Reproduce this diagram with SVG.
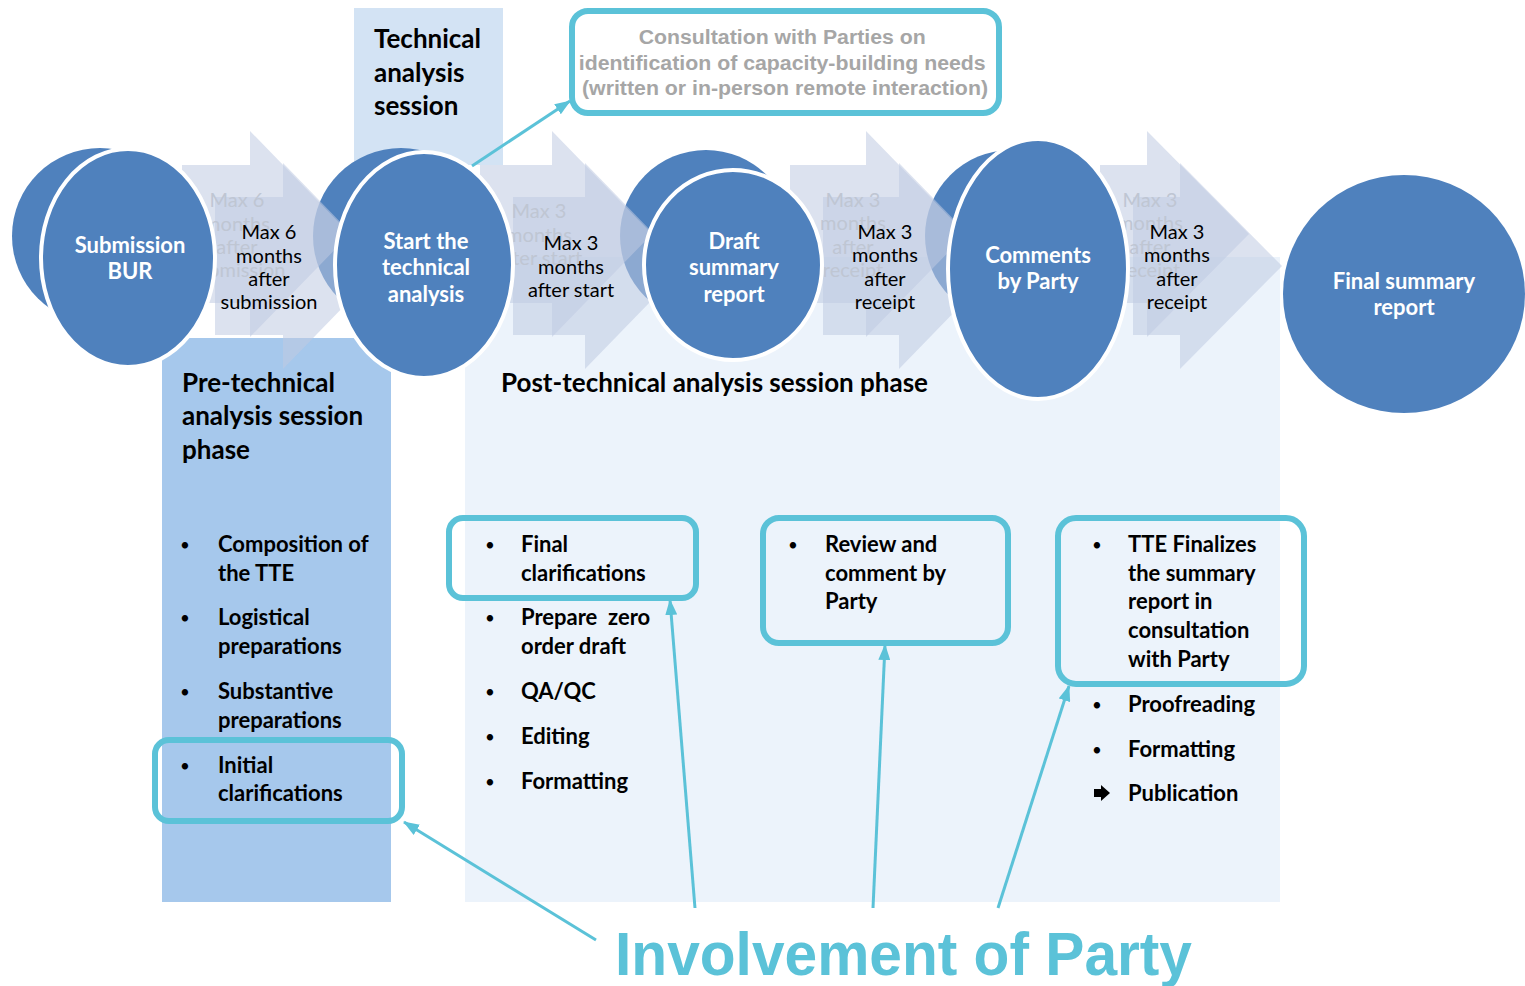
<svg xmlns="http://www.w3.org/2000/svg" width="1525" height="986" viewBox="0 0 1525 986">
<style>
.hd{font-family:Lato,"Open Sans",sans-serif;font-weight:bold;font-size:26px;fill:#000}
.li{font-family:Lato,"Open Sans",sans-serif;font-weight:bold;font-size:22px;fill:#000}
.bu{font-family:Lato,"Open Sans",sans-serif;font-size:17px;fill:#000;text-anchor:middle}
.ct{font-family:Lato,"Open Sans",sans-serif;font-weight:bold;font-size:22px;fill:#fff;text-anchor:middle}
.mx{font-family:Lato,"Open Sans",sans-serif;font-size:20px;fill:#000;text-anchor:middle}
.gx{font-family:Lato,"Open Sans",sans-serif;font-size:20px;fill:#BFC6D3;text-anchor:middle}
.gc{fill:#4F81BD}
.mc{fill:#4F81BD;stroke:#fff;stroke-width:4}
.ar{fill:#BFCBE2;opacity:0.55}
.hl{fill:none;stroke:#5BC2D8;stroke-width:6}
.cn{stroke:#5BC2D8;stroke-width:3;fill:none;marker-end:url(#ah)}
</style>
<defs>
<marker id="ah" markerUnits="userSpaceOnUse" markerWidth="16" markerHeight="12" refX="15" refY="6" orient="auto">
<path d="M0,0 L16,6 L0,12 z" fill="#5BC2D8"/>
</marker>
</defs>

<g id="panels">
<rect x="162" y="338" width="229" height="564" fill="#A6C8EC"/>
<rect x="465" y="257" width="815" height="645" fill="#ECF3FB"/>
<rect x="354" y="8" width="149" height="157" fill="#D3E3F4"/>
</g>

<g id="ghost-circles">
<circle class="gc" cx="100" cy="236" r="88"/>
<circle class="gc" cx="401" cy="236" r="88"/>
<circle class="gc" cx="706" cy="236" r="86"/>
<circle class="gc" cx="1011" cy="236" r="86"/>
</g>

<g id="timeline-arrows">
<polygon class="ar" points="182,165 250,165 250,131 350,234 250,337 250,303 182,303"/>
<polygon class="ar" points="215,197 283,197 283,163 383,266 283,369 283,335 215,335"/>
<polygon class="ar" points="480,165 552,165 552,131 652,234 552,337 552,303 480,303"/>
<polygon class="ar" points="513,197 585,197 585,163 685,266 585,369 585,335 513,335"/>
<polygon class="ar" points="790,165 866,165 866,131 966,234 866,337 866,303 790,303"/>
<polygon class="ar" points="823,197 899,197 899,163 999,266 899,369 899,335 823,335"/>
<polygon class="ar" points="1100,165 1147,165 1147,131 1249,234 1147,337 1147,303 1100,303"/>
<polygon class="ar" points="1133,197 1180,197 1180,163 1282,266 1180,369 1180,335 1133,335"/>
</g>

<g id="ghost-labels">
<text class="gx"><tspan x="237" y="207">Max 6</tspan><tspan x="237" y="231">months</tspan><tspan x="237" y="254">after</tspan><tspan x="237" y="277">submission</tspan></text>
<text class="gx"><tspan x="539" y="218">Max 3</tspan><tspan x="539" y="242">months</tspan><tspan x="539" y="265">after start</tspan></text>
<text class="gx"><tspan x="853" y="207">Max 3</tspan><tspan x="853" y="230">months</tspan><tspan x="853" y="254">after</tspan><tspan x="853" y="277">receipt</tspan></text>
<text class="gx"><tspan x="1150" y="207">Max 3</tspan><tspan x="1150" y="230">months</tspan><tspan x="1150" y="254">after</tspan><tspan x="1150" y="277">receipt</tspan></text>
</g>

<g id="node-submission">
<ellipse class="mc" cx="128" cy="258" rx="87" ry="109"/>
<text class="ct"><tspan x="130" y="253">Submission</tspan><tspan x="130" y="279">BUR</tspan></text>
</g>
<g id="node-start">
<ellipse class="mc" cx="424" cy="265" rx="89" ry="113"/>
<text class="ct"><tspan x="426" y="249">Start the</tspan><tspan x="426" y="275">technical</tspan><tspan x="426" y="302">analysis</tspan></text>
</g>
<g id="node-draft">
<ellipse class="mc" cx="733" cy="265" rx="89" ry="95"/>
<text class="ct"><tspan x="734" y="249">Draft</tspan><tspan x="734" y="275">summary</tspan><tspan x="734" y="302">report</tspan></text>
</g>
<g id="node-comments">
<ellipse class="mc" cx="1038" cy="269" rx="90" ry="130"/>
<text class="ct"><tspan x="1038" y="263">Comments</tspan><tspan x="1038" y="289">by Party</tspan></text>
</g>
<g id="node-final">
<ellipse cx="1404" cy="294" rx="121" ry="119" fill="#4F81BD"/>
<text class="ct"><tspan x="1404" y="289">Final summary</tspan><tspan x="1404" y="315">report</tspan></text>
</g>

<g id="durations">
<text class="mx"><tspan x="269" y="239">Max 6</tspan><tspan x="269" y="263">months</tspan><tspan x="269" y="286">after</tspan><tspan x="269" y="309">submission</tspan></text>
<text class="mx"><tspan x="571" y="250">Max 3</tspan><tspan x="571" y="274">months</tspan><tspan x="571" y="297">after start</tspan></text>
<text class="mx"><tspan x="885" y="239">Max 3</tspan><tspan x="885" y="262">months</tspan><tspan x="885" y="286">after</tspan><tspan x="885" y="309">receipt</tspan></text>
<text class="mx"><tspan x="1177" y="239">Max 3</tspan><tspan x="1177" y="262">months</tspan><tspan x="1177" y="286">after</tspan><tspan x="1177" y="309">receipt</tspan></text>
</g>

<g id="tech-session">
<text class="hd"><tspan x="374" y="48">Technical</tspan><tspan x="374" y="82">analysis</tspan><tspan x="374" y="115">session</tspan></text>
</g>

<g id="consultation">
<rect class="hl" x="572" y="11" width="427" height="102" rx="16"/>
<text font-family="'Liberation Sans',Arial,sans-serif" font-weight="bold" font-size="20" fill="#A6A6A6" text-anchor="middle">
<tspan x="785" y="44" textLength="287" lengthAdjust="spacingAndGlyphs">Consultation with Parties on</tspan>
<tspan x="785" y="70" textLength="407" lengthAdjust="spacingAndGlyphs">identification of capacity-building needs</tspan>
<tspan x="785" y="95" textLength="406" lengthAdjust="spacingAndGlyphs">(written or in-person remote interaction)</tspan>
</text>
</g>

<g id="pre-phase">
<text class="hd"><tspan x="182" y="392">Pre-technical</tspan><tspan x="182" y="425">analysis session</tspan><tspan x="182" y="459">phase</tspan></text>
<text class="bu"><tspan x="185" y="551">•</tspan><tspan x="185" y="624">•</tspan><tspan x="185" y="698">•</tspan><tspan x="185" y="772">•</tspan></text>
<text class="li">
<tspan x="218" y="552">Composition of</tspan><tspan x="218" y="581">the TTE</tspan>
<tspan x="218" y="625">Logistical</tspan><tspan x="218" y="654">preparations</tspan>
<tspan x="218" y="699">Substantive</tspan><tspan x="218" y="728">preparations</tspan>
<tspan x="218" y="773">Initial</tspan><tspan x="218" y="801">clarifications</tspan>
</text>
<rect class="hl" x="155" y="740" width="247" height="81" rx="14"/>
</g>

<g id="post-phase">
<text class="hd" x="501" y="392">Post-technical analysis session phase</text>
<text class="bu"><tspan x="490" y="551">•</tspan><tspan x="490" y="624">•</tspan><tspan x="490" y="698">•</tspan><tspan x="490" y="743">•</tspan><tspan x="490" y="788">•</tspan></text>
<text class="li">
<tspan x="521" y="552">Final</tspan><tspan x="521" y="581">clarifications</tspan>
<tspan x="521" y="625">Prepare&#160; zero</tspan><tspan x="521" y="654">order draft</tspan>
<tspan x="521" y="699">QA/QC</tspan>
<tspan x="521" y="744">Editing</tspan>
<tspan x="521" y="789">Formatting</tspan>
</text>
<rect class="hl" x="449" y="518" width="247" height="80" rx="14"/>
</g>

<g id="review">
<text class="bu" x="793" y="551">•</text>
<text class="li">
<tspan x="825" y="552">Review and</tspan><tspan x="825" y="581">comment by</tspan><tspan x="825" y="609">Party</tspan>
</text>
<rect class="hl" x="763" y="518" width="245" height="125" rx="16"/>
</g>

<g id="finalize">
<text class="bu"><tspan x="1097" y="551">•</tspan><tspan x="1097" y="711">•</tspan><tspan x="1097" y="756">•</tspan></text>
<text class="li">
<tspan x="1128" y="552">TTE Finalizes</tspan><tspan x="1128" y="581">the summary</tspan><tspan x="1128" y="609">report in</tspan><tspan x="1128" y="638">consultation</tspan><tspan x="1128" y="667">with Party</tspan>
<tspan x="1128" y="712">Proofreading</tspan>
<tspan x="1128" y="757">Formatting</tspan>
<tspan x="1128" y="801">Publication</tspan>
</text>
<polygon points="1094,789 1101,789 1101,785 1110,793 1101,801 1101,797 1094,797" fill="#000"/>
<rect class="hl" x="1058" y="518" width="246" height="166" rx="18"/>
</g>

<g id="connectors">
<line class="cn" x1="472" y1="166" x2="570" y2="101"/>
<line class="cn" x1="596" y1="940" x2="404" y2="822"/>
<line class="cn" x1="695" y1="908" x2="670" y2="600"/>
<line class="cn" x1="873" y1="908" x2="885" y2="645"/>
<line class="cn" x1="998" y1="908" x2="1069" y2="686"/>
</g>

<g id="involvement">
<text x="615" y="975" font-family="'Liberation Sans',Arial,sans-serif" font-weight="bold" font-size="62" fill="#5BC2D8" textLength="577" lengthAdjust="spacingAndGlyphs">Involvement of Party</text>
</g>
</svg>
